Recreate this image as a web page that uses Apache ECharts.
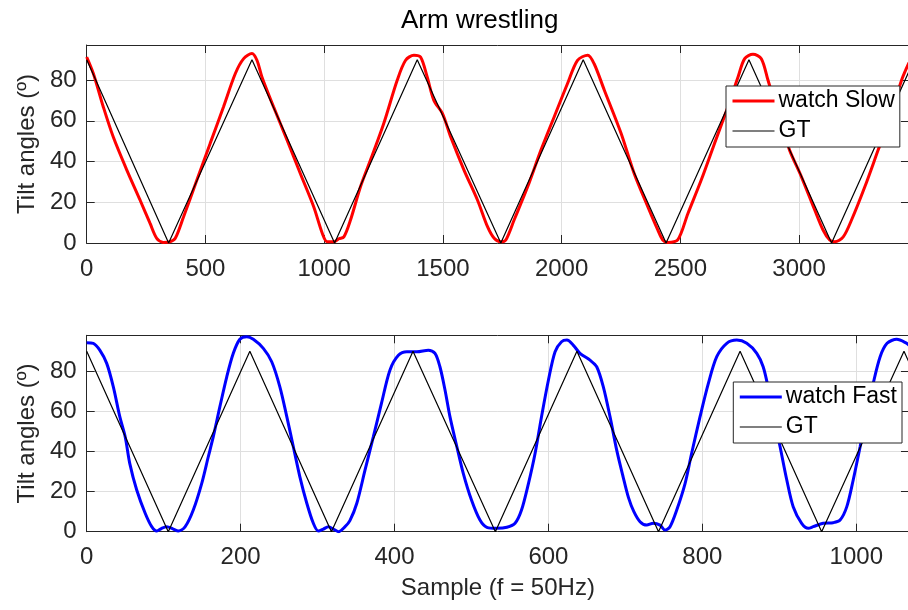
<!DOCTYPE html>
<html><head><meta charset="utf-8">
<script src="https://cdn.jsdelivr.net/npm/echarts@6/dist/echarts.min.js"></script>
<style>html,body{margin:0;padding:0;background:#fff}#c{width:908px;height:610px}</style>
</head><body><div id="c"></div>
<script>
// ---- data ----
const titleText = 'Arm wrestling';
const yName = 'Tilt angles (º)';
const xName = 'Sample (f = 50Hz)';
const legendTop = ['watch Slow', 'GT'];
const legendBottom = ['watch Fast', 'GT'];

const topXRange = [0, 3463];
const topXStep = 500;
const topYRange = [0, 97.2];
const bottomXRange = [0, 1068.5];
const bottomXStep = 200;
const bottomYRange = [0, 98];
const yStep = 20;

const slowPoints = [
  [0,91.3],[28,83.2],[70,66.8],[112,52],[169,35.8],[225,21],[267,9.6],[295,2.3],[323,0.3],[351,0.6],
  [373,2.3],[408,12.9],[464,30.9],[520,48.9],[576,66.8],[626,83.2],[661,90.5],[696,93],[717,89.7],
  [738,81.5],[787,66.8],[844,50.5],[900,34],[956,17.8],[992,4.8],[1013,0.6],[1041,0.6],[1062,2.1],
  [1083,3],[1111,11.3],[1153,27.6],[1195,40.7],[1251,58.7],[1308,80],[1343,89.7],[1378,92.2],
  [1406,91.3],[1434,81.5],[1462,70],[1498,63.6],[1533,52],[1589,35.8],[1646,21],[1688,8],[1716,2.3],
  [1744,0.6],[1765,1.5],[1800,11.3],[1857,27.6],[1913,45.6],[1969,62],[2025,78.3],[2067,89.7],
  [2110,92.2],[2137,88],[2180,75],[2250,54],[2306,34],[2363,17.8],[2405,6.4],[2426,1.5],[2447,0.3],
  [2489,1.5],[2532,14.5],[2588,30.9],[2644,48.9],[2700,66.8],[2743,81.5],[2771,90.5],[2806,92.6],
  [2841,90.5],[2869,80],[2900,68],[2930,57],[2960,45.6],[3010,32.5],[3066,16.2],[3101,6.4],
  [3129,1.5],[3150,0.6],[3186,3],[3221,11.3],[3277,27.6],[3333,45.6],[3389,63.6],[3432,80],[3463,88.5]
];
const gtSlowPoints = [
  [0,90],[345,0],[696,90],[1044,0],[1392,90],[1744,0],[2091,90],[2440,0],[2789,90],[3137,0],[3463,84.3]
];
const fastPoints = [
  [0,94.3],[8.6,94],[17,90.6],[26,84],[34.6,72.3],[43,57.4],[50,47.4],[56,34],[65,20.8],[76,9.2],
  [84.5,2.5],[91,0.3],[97.5,1.7],[104,2.5],[112.5,1.3],[119,0.3],[128,2.5],[138.5,10.8],[149.4,24],
  [158,37.4],[164.5,47.4],[173,62.3],[182,77.3],[190.5,89],[199,96],[208,97.3],[216.5,96],[229.5,91.5],
  [240.4,84.8],[251,72.3],[260,57.4],[268.5,42.4],[277,27.4],[286,14.2],[294.5,4.2],[301,0.3],
  [307.5,1.3],[314,2.5],[320.5,1.3],[327,0],[335.7,2.5],[342,5.5],[351,14.2],[361.7,30.8],[372.5,47.4],
  [383,64],[394,80.6],[405,88],[416,89.8],[429,89.8],[444,90.6],[452.6,89],[459,82.3],[465.6,70.7],
  [472,57.4],[481,42.4],[489.4,29],[500,15.8],[511,5.8],[520,2.2],[533,1.7],[546,2.2],[556.6,4.2],
  [565,10.8],[574,24],[582.6,39],[591,57.4],[600,75.7],[608.6,89.8],[617,94.8],[624,95.6],[632.4,93],
  [641,89],[654,85.6],[662.7,82.3],[671.3,72.3],[680,57.4],[688.7,40.7],[697,27.4],[704,17],[711,10],
  [719,5],[727.7,3.3],[736,4.2],[745,3.3],[751.5,0.8],[758,2.5],[766.7,10.8],[777.5,24],[786,39],
  [797,57.4],[807.8,74],[818.7,87.3],[831.7,94],[844.7,95.6],[857.7,94],[870.7,89],[879,82.3],
  [886,71],[893,57],[901,42.4],[909.7,25.8],[918,12.5],[929,4.2],[937.7,1.7],[944,2.5],[957,4.2],
  [970,4.5],[979,5.8],[987.7,12.5],[996,25.8],[1005,42.4],[1013.6,59],[1022,74],[1031,87.3],
  [1040,94],[1052.6,96],[1065.6,94],[1068.5,93]
];
const gtFastPoints = [
  [0,90],[106,0],[212,90],[318,0],[424,90],[531,0],[637,90],[743,0],[849,90],[955,0],[1062,90],[1068.5,84.5]
];

// ---- styling ----
const FONT = 'Liberation Sans, Arial, Helvetica, sans-serif';
const AX = '#262626';
const GRID = '#dfdfdf';
const plain = v => String(v);

function mainX(gi, range, step, name) {
  return {
    gridIndex: gi, type: 'value', position: 'bottom', min: range[0], max: range[1], interval: step,
    axisLine: { show: true, onZero: false, lineStyle: { color: AX, width: 1 } },
    axisTick: { show: true, inside: true, length: 8, lineStyle: { color: AX } },
    axisLabel: { fontSize: 24, color: AX, margin: 14, fontFamily: FONT, formatter: plain,
                 showMaxLabel: false, hideOverlap: false },
    splitLine: { show: true, lineStyle: { color: GRID, width: 1 } },
    name: name || '', nameLocation: 'middle', nameGap: 45,
    nameTextStyle: { fontSize: 24, color: AX, fontFamily: FONT }
  };
}
function topX(gi, range, step) {
  return {
    gridIndex: gi, type: 'value', position: 'top', min: range[0], max: range[1], interval: step,
    axisLine: { show: true, onZero: false, lineStyle: { color: AX, width: 1 } },
    axisTick: { show: true, inside: true, length: 8, lineStyle: { color: AX } },
    axisLabel: { show: false }, splitLine: { show: false }
  };
}
function mainY(gi, range) {
  return {
    gridIndex: gi, type: 'value', position: 'left', min: range[0], max: range[1], interval: yStep,
    axisLine: { show: true, onZero: false, lineStyle: { color: AX, width: 1 } },
    axisTick: { show: true, inside: true, length: 8, lineStyle: { color: AX } },
    axisLabel: { fontSize: 24, color: AX, margin: 10, fontFamily: FONT, formatter: plain,
                 showMaxLabel: false },
    splitLine: { show: true, lineStyle: { color: GRID, width: 1 } },
    name: yName, nameLocation: 'middle', nameGap: 38, nameRotate: 90,
    nameTextStyle: { fontSize: 24, color: AX, fontFamily: FONT }
  };
}
function rightY(gi, range) {
  return {
    gridIndex: gi, type: 'value', position: 'right', min: range[0], max: range[1], interval: yStep,
    axisLine: { show: true, onZero: false, lineStyle: { color: AX, width: 1 } },
    axisTick: { show: true, inside: true, length: 8, lineStyle: { color: AX } },
    axisLabel: { show: false }, splitLine: { show: false }
  };
}
function legend(left, top, names, colors, widths) {
  return {
    orient: 'vertical', left: left, top: top, padding: [3, 5, 4, 5], itemGap: 6,
    itemWidth: 42, itemHeight: 14, borderColor: AX, borderWidth: 1, backgroundColor: '#fff',
    borderRadius: 0, selectedMode: false, itemStyle: { opacity: 0 },
    textStyle: { fontSize: 23, color: '#000', fontFamily: FONT, lineHeight: 24, padding: [0, 0, 0, -1] },
    data: names.map((n, i) => ({ name: n, lineStyle: { color: colors[i], width: widths[i] } }))
  };
}
function line(name, pts, xi, yi, color, width, z) {
  return {
    type: 'line', name: name, data: pts, xAxisIndex: xi, yAxisIndex: yi,
    symbol: 'none', showSymbol: false, smooth: name === 'GT' ? false : 0.3,
    lineStyle: { color: color, width: width }, itemStyle: { color: color }, z: z
  };
}

const chart = echarts.init(document.getElementById('c'), null, { renderer: 'canvas' });
chart.setOption({
  animation: false,
  backgroundColor: '#fff',
  title: { text: titleText, left: 401, top: 8, padding: 0,
           textStyle: { fontSize: 26, fontWeight: 'normal', color: '#000', fontFamily: FONT } },
  grid: [
    { left: 86.7, top: 45, width: 822.3, height: 198, containLabel: false, outerBoundsMode: 'none' },
    { left: 86.7, top: 335.3, width: 822.3, height: 196.4, containLabel: false, outerBoundsMode: 'none' }
  ],
  xAxis: [
    mainX(0, topXRange, topXStep), topX(0, topXRange, topXStep),
    mainX(1, bottomXRange, bottomXStep, xName), topX(1, bottomXRange, bottomXStep)
  ],
  yAxis: [
    mainY(0, topYRange), rightY(0, topYRange),
    mainY(1, bottomYRange), rightY(1, bottomYRange)
  ],
  legend: [
    legend(726, 86, legendTop, ['#ff0000', '#000000'], [3, 1.2]),
    legend(733.3, 382, legendBottom, ['#0000ff', '#000000'], [3, 1.2])
  ],
  series: [
    line('watch Slow', slowPoints, 0, 0, '#ff0000', 3, 2),
    line('GT', gtSlowPoints, 0, 0, '#000000', 1.2, 3),
    line('watch Fast', fastPoints, 2, 2, '#0000ff', 3, 2),
    line('GT', gtFastPoints, 2, 2, '#000000', 1.2, 3)
  ]
});
</script></body></html>
